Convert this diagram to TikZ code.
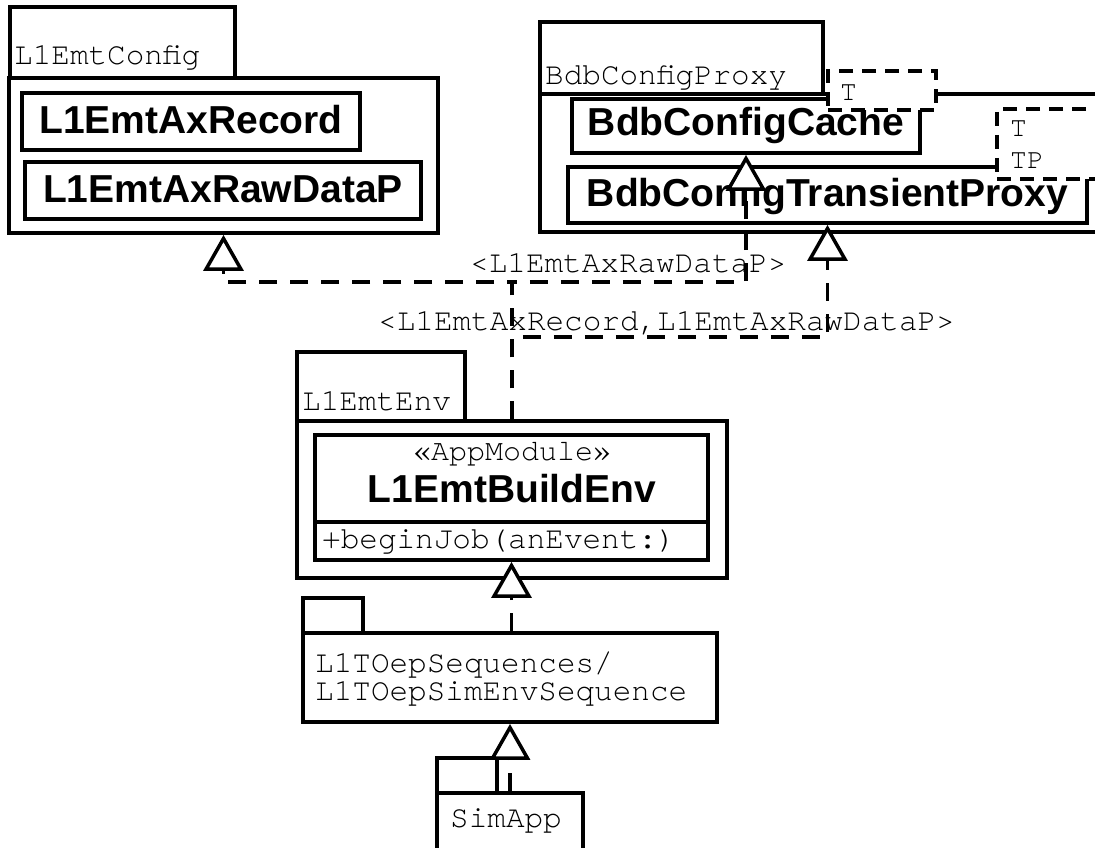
\documentclass[tikz,border=0pt]{standalone}
\usepackage{fontspec}
\newfontfamily\monof{TeX Gyre Cursor}
\newfontfamily\sansf{Liberation Sans}
\usetikzlibrary{arrows.meta}
\begin{document}
\begin{tikzpicture}[x=1pt,y=-1pt,
  pbox/.style={draw, line width=3.8pt, fill=white, inner sep=0pt},
  tbox/.style={draw, line width=3.5pt, dash pattern=on 14pt off 9pt, fill=white, inner sep=0pt},
  mtext/.style={font=\monof\fontsize{31}{31}\selectfont, inner sep=0pt, anchor=base west},
  ttext/.style={font=\monof\fontsize{28}{28}\selectfont, inner sep=0pt, anchor=base west},
  ctext/.style={font=\sansf\bfseries\fontsize{39}{39}\selectfont, inner sep=0pt, anchor=base},
  dep/.style={line width=3.5pt, dash pattern=on 18pt off 13pt, -{Triangle[length=36pt, width=40pt, fill=white]}},
]
\useasboundingbox (0,0) rectangle (1095,848);
\clip (0,0) rectangle (1095,848);
\fill[white] (0,0) rectangle (1095,848);

% L1EmtConfig package
\node[pbox, minimum width=225pt, minimum height=71pt] (cfgtab) at (122.5,42.5) {};
\node[pbox, minimum width=429pt, minimum height=155pt] (cfgbody) at (223.5,155.5) {};
\node[pbox, minimum width=338pt, minimum height=57pt] (rec) at (191,121.5) {};
\node[pbox, minimum width=396pt, minimum height=57pt] (raw) at (223,190.5) {};
\node[mtext] (cfgname) at (14,65) {L1EmtConfig};
\node[ctext] (recname) at (191,134) {L1EmtAxRecord};
\node[ctext] (rawname) at (223,202) {L1EmtAxRawDataP};

% BdbConfigProxy package
\node[pbox, minimum width=283pt, minimum height=72pt] (proxytab) at (681.5,58) {};
\node[pbox, minimum width=580pt, minimum height=138pt] (proxybody) at (830,163) {};
\node[pbox, minimum width=348pt, minimum height=54pt] (cache) at (746,126) {};
\node[pbox, minimum width=519pt, minimum height=56pt] (trans) at (827.5,195) {};
\node[mtext] (proxyname) at (545,85) {BdbConfigProxy};
\node[ctext] (cachename) at (746,136) {BdbConfigCache};
\node[ctext] (transname) at (827.5,206) {BdbConfigTransientProxy};
\node[tbox, minimum width=108pt, minimum height=39pt] (tparamA) at (882,90.5) {};
\node[ttext] (tparamAtext) at (840,101) {T};
\node[tbox, minimum width=113pt, minimum height=70pt] (tparamB) at (1053.5,144) {};
\node[ttext] (tparamBone) at (1010,137) {T};
\node[ttext] (tparamBtwo) at (1010,168) {TP};

% L1EmtEnv package
\node[pbox, minimum width=168pt, minimum height=69pt] (envtab) at (381,386.5) {};
\node[pbox, minimum width=430pt, minimum height=157pt] (envbody) at (512,499.5) {};
\node[pbox, minimum width=393pt, minimum height=125pt] (cls) at (511.5,497.5) {};
\draw[line width=3.8pt] (cls.west |- 0,522) -- (cls.east |- 0,522);
\node[mtext] (envname) at (302,410) {L1EmtEnv};
\node[font=\monof\fontsize{30}{30}\selectfont, inner sep=0pt, anchor=base] (stereo) at (512,460) {«AppModule»};
\node[ctext] (clsname) at (512,502) {L1EmtBuildEnv};
\node[mtext] (clsop) at (322,548) {+beginJob(anEvent:)};

% L1TOepSequences package
\node[pbox, minimum width=60pt, minimum height=35pt] (seqtab) at (333,615.5) {};
\node[pbox, minimum width=414pt, minimum height=89pt] (seqbody) at (510,677.5) {};
\node[mtext] (seqone) at (315,672) {L1TOepSequences/};
\node[mtext] (seqtwo) at (315,700) {L1TOepSimEnvSequence};

% SimApp package
\node[pbox, minimum width=60pt, minimum height=35pt] (simtab) at (467,775.5) {};
\node[pbox, minimum width=146pt, minimum height=77pt] (simbody) at (510,831.5) {};
\node[mtext] (simname) at (450,827) {SimApp};

% binding labels
\node[mtext] (bindA) at (470,272) {<L1EmtAxRawDataP>};
\node[mtext] (bindB) at (378,330) {<L1EmtAxRecord,L1EmtAxRawDataP>};

% connectors
\coordinate (jA) at (512,282);
\coordinate (jB) at (512,337);
\draw[dep] (envbody.north) -- (jA) -| (cfgbody.south);
\draw[dep] (envbody.north) -- (jA) -| (cache.south);
\draw[dep] (envbody.north) -- (jB) -| (trans.south);
\draw[dep] (cls.south |- seqbody.north) -- (cls.south);
\draw[dep] (simbody.north) -- (seqbody.south);
\end{tikzpicture}
\end{document}
